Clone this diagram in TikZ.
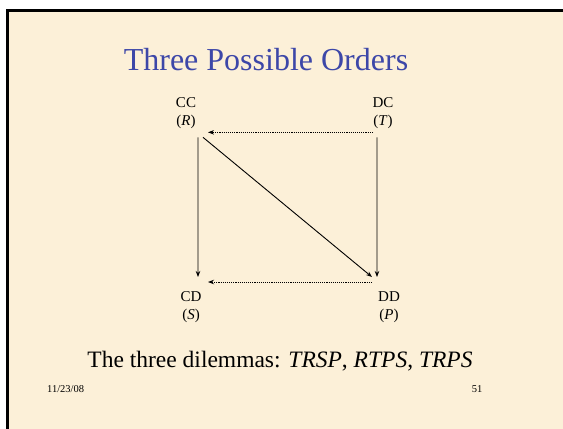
\documentclass[tikz,border=0pt]{standalone}
\usepackage{fontspec}
\setmainfont{Liberation Serif}
\usepackage{xcolor}
\usepackage{tikz}
\usetikzlibrary{arrows.meta,positioning}
\definecolor{Parchment}{HTML}{FCF0D8}
\definecolor{TitleBlue}{HTML}{3D47A8}

\begin{document}
\begin{tikzpicture}[
  x=1bp,y=-1bp,
  lbl/.style={inner sep=0pt,anchor=north,align=center,font=\fontsize{15bp}{18bp}\selectfont},
  arrow/.style={-{Stealth[length=6bp,width=4.5bp]},line width=0.9bp},
  dotarrow/.style={-{Stealth[length=6bp,width=4.5bp]},line width=0.9bp,densely dotted}
]
\useasboundingbox (0,0) rectangle (563,428);
\fill[white] (0,0) rectangle (563,428);
\fill[black] (6,9) rectangle (570,435);
\fill[Parchment] (8.5,11.5) rectangle (570,435);
\node[inner sep=0pt,anchor=base,text=TitleBlue,font=\fontsize{32bp}{38bp}\selectfont] (title) at (266,70) {Three Possible Orders};
\node[lbl] (cc) at (186,97) {CC\\(\textit{R})};
\node[lbl] (dc) at (383,97) {DC\\(\textit{T})};
\node[lbl] (cd) at (191,291) {CD\\(\textit{S})};
\node[lbl] (dd) at (389,291) {DD\\(\textit{P})};
\draw[arrow] ([shift={(12bp,-8.8bp)}]cc.south) -- ([shift={(7bp,14bp)}]cd.north);
\draw[arrow] ([shift={(-6bp,-8.8bp)}]dc.south) -- ([shift={(-12bp,14bp)}]dd.north);
\draw[arrow] ([shift={(17bp,-8.8bp)}]cc.south) -- ([shift={(-17bp,14bp)}]dd.north);
\draw[dotarrow] ([shift={(-10bp,-3.8bp)}]dc.south) -- ([shift={(22bp,-3.8bp)}]cc.south);
\draw[dotarrow] ([shift={(-17bp,9bp)}]dd.north) -- ([shift={(17bp,9bp)}]cd.north);
\node[inner sep=0pt,anchor=base,font=\fontsize{23.5bp}{28bp}\selectfont] (dilemmas) at (280,367) {The three dilemmas: \textit{TRSP}, \textit{RTPS}, \textit{TRPS}};
\node[inner sep=0pt,anchor=base west,font=\fontsize{10.5bp}{12bp}\selectfont] (date) at (47,392) {11/23/08};
\node[inner sep=0pt,anchor=base,font=\fontsize{10.5bp}{12bp}\selectfont] (page) at (477,392) {51};
\end{tikzpicture}
\end{document}
